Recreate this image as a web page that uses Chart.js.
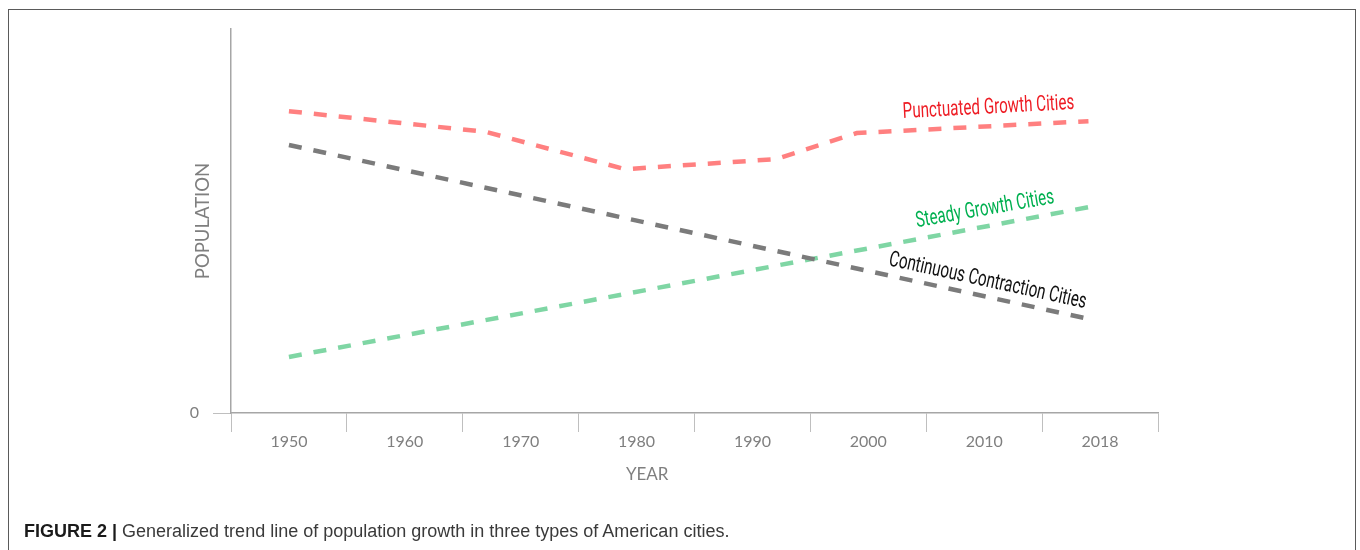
<!DOCTYPE html>
<html>
<head>
<meta charset="utf-8">
<script src="https://cdn.jsdelivr.net/npm/chart.js@4.4.0/dist/chart.umd.min.js"></script>
<style>
  html, body { margin: 0; padding: 0; background: #fff; overflow: hidden; }
  #frame { position: absolute; left: 8px; top: 9px; width: 1348px; height: 600px; border: 1.5px solid #5a5a5a; box-sizing: border-box; }
  #wrap { position: absolute; left: 0; top: 0; width: 1360px; height: 550px; }
  #caption { position: absolute; left: 24px; top: 521px; font: 18px "Liberation Sans", Arial, sans-serif; color: #3a3a3a; white-space: nowrap; }
  #caption b { color: #1a1a1a; }
</style>
</head>
<body>
<div id="frame"></div>
<div id="wrap"><canvas id="chart"></canvas></div>
<div id="caption"><b>FIGURE 2 |</b> Generalized trend line of population growth in three types of American cities.</div>
<script>
var yearLabels = ['1950', '1960', '1970', '1980', '1990', '2000', '2010', '2018'];
var yTicks = [0];

// x values are positions on the year axis (one slot = ten years)
var punctuatedYears = [1950, 1967, 1979, 1992, 1999, 2019];
var punctuatedValues = [78.6, 73.2, 63.5, 66.1, 72.9, 76.0];

var contractionYears = [1950, 2019];
var contractionValues = [69.8, 24.5];

var steadyYears = [1950, 2019];
var steadyValues = [14.6, 53.6];

var lineLabels = [
    { text: 'Punctuated Growth Cities', color: '#ee1c24', from: [2003.0, 76.8], to: [2017.8, 79.2] },
    { text: 'Steady Growth Cities', color: '#00b050', from: [2004.2, 48.4], to: [2016.1, 54.7] },
    { text: 'Continuous Contraction Cities', color: '#111111', from: [2001.7, 38.5], to: [2018.7, 27.3] }
];

function toPoints(xs, ys) {
    return xs.map(function (x, i) { return { x: x, y: ys[i] }; });
}

var axisGrey = '#7f7f7f';

var labelPlugin = {
    id: 'lineLabels',
    afterDatasetsDraw: function (chart) {
        var ctx = chart.ctx;
        var xs = chart.scales.x2;
        var ys = chart.scales.y;
        lineLabels.forEach(function (l) {
            var x0 = xs.getPixelForValue(l.from[0]), y0 = ys.getPixelForValue(l.from[1]);
            var x1 = xs.getPixelForValue(l.to[0]), y1 = ys.getPixelForValue(l.to[1]);
            var len = Math.hypot(x1 - x0, y1 - y0);
            var ang = Math.atan2(y1 - y0, x1 - x0);
            ctx.save();
            ctx.font = '22px Roboto';
            var w = ctx.measureText(l.text).width;
            ctx.translate(x0, y0);
            ctx.rotate(ang);
            ctx.scale(len / w, 1);
            ctx.fillStyle = l.color;
            ctx.textAlign = 'left';
            ctx.textBaseline = 'alphabetic';
            ctx.fillText(l.text, 0, 0);
            ctx.restore();
        });

        // x axis title sits a little left of centre in the original
        var area = chart.chartArea;
        ctx.save();
        ctx.font = '17px Lato';
        ctx.fillStyle = axisGrey;
        ctx.textAlign = 'center';
        ctx.textBaseline = 'middle';
        ctx.fillText('YEAR', area.left + (area.right - area.left) * 0.449, 475);
        ctx.restore();
    }
};

var commonLine = {
    xAxisID: 'x2',
    fill: false,
    tension: 0,
    pointRadius: 0,
    borderWidth: 4.5,
    borderDash: [13, 12],
    borderCapStyle: 'butt'
};

new Chart(document.getElementById('chart'), {
    type: 'line',
    data: {
        labels: yearLabels,
        datasets: [
            Object.assign({ label: 'Punctuated Growth Cities', data: toPoints(punctuatedYears, punctuatedValues), borderColor: '#ff8080' }, commonLine),
            Object.assign({ label: 'Continuous Contraction Cities', data: toPoints(contractionYears, contractionValues), borderColor: '#7b7b7b' }, commonLine),
            Object.assign({ label: 'Steady Growth Cities', data: toPoints(steadyYears, steadyValues), borderColor: '#7fd6a4' }, commonLine)
        ]
    },
    options: {
        responsive: true,
        maintainAspectRatio: false,
        animation: false,
        layout: {
            padding: { left: 151, top: 29, right: 202, bottom: 57 }
        },
        plugins: {
            legend: { display: false },
            tooltip: { enabled: false }
        },
        scales: {
            x: {
                type: 'category',
                position: 'bottom',
                offset: true,
                grid: {
                    offset: true,
                    drawOnChartArea: false,
                    tickLength: 19,
                    color: '#bfbfbf'
                },
                border: { color: '#a6a6a6', width: 1.5 },
                ticks: {
                    color: axisGrey,
                    padding: 0,
                    font: { family: 'Lato', size: 16 }
                },
                afterFit: function (s) { s.height = 80; }
            },
            x2: {
                type: 'linear',
                position: 'bottom',
                display: false,
                min: 1945,
                max: 2025
            },
            y: {
                min: 0,
                max: 100,
                afterBuildTicks: function (s) {
                    s.ticks = yTicks.map(function (v) { return { value: v }; });
                },
                grid: {
                    drawOnChartArea: false,
                    tickLength: 18,
                    color: '#bfbfbf'
                },
                border: { color: '#a6a6a6', width: 1.5 },
                ticks: {
                    color: axisGrey,
                    padding: 14,
                    font: { family: 'Lato', size: 16 }
                },
                title: {
                    display: true,
                    text: 'POPULATION',
                    color: axisGrey,
                    font: { family: 'Lato', size: 18.5 },
                    padding: { top: 41, bottom: 0 }
                },
                afterFit: function (s) { s.width = 80; }
            }
        }
    },
    plugins: [labelPlugin]
});
</script>
</body>
</html>
